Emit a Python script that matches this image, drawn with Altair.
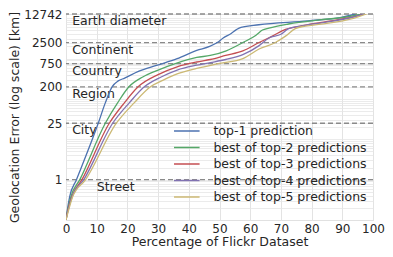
import altair as alt
import pandas as pd

series = ["top-1 prediction", "best of top-2 predictions", "best of top-3 predictions",
          "best of top-4 predictions", "best of top-5 predictions"]
colors = ["#4c72b0", "#55a868", "#c44e52", "#8172b2", "#ccb974"]

top1_pct = [0, 0.5, 1.2, 3.4, 10.5, 12.8, 15, 17, 19.1, 23.4, 29.8, 36.2, 42.6, 46.8, 49.3, 51.2, 53.8, 55.4, 57, 62.8, 78.8, 89.7, 94.2, 100]
top1_km = [0.1, 0.19, 0.38, 1, 25, 80, 200, 280, 328, 473, 686, 995, 1600, 2000, 2500, 3240, 4200, 5150, 5970, 6900, 8650, 10570, 12742, 18000]

top2_pct = [0, 0.5, 1.6, 4.5, 12.8, 16.8, 20.5, 25, 30, 35.6, 42.6, 47, 52.2, 57.6, 61.9, 64, 66.1, 72.5, 83.2, 91.8, 96, 100]
top2_km = [0.1, 0.17, 0.38, 1, 25, 80, 200, 350, 520, 750, 1069, 1195, 1560, 2500, 3800, 5100, 5700, 7200, 9200, 10900, 12742, 16000]

top3_pct = [0, 0.5, 1.9, 5.2, 14.1, 19, 23.5, 30, 36.2, 42.6, 47, 52, 57.6, 62.9, 67.2, 71.5, 76, 83.2, 93.9, 97.2, 100]
top3_km = [0.1, 0.16, 0.38, 1, 25, 80, 200, 400, 624, 824, 950, 1200, 1560, 2500, 3600, 5300, 6300, 7900, 10900, 12742, 15000]

top4_pct = [0, 0.5, 2.0, 5.8, 15.2, 20.6, 25.5, 31, 36.2, 42.6, 47, 52, 57.6, 62.9, 66.1, 70, 72.5, 77, 83.2, 92, 97.2, 100]
top4_km = [0.1, 0.15, 0.38, 1, 25, 80, 200, 350, 520, 686, 796, 950, 1250, 2100, 3250, 4000, 5500, 6500, 7700, 10000, 12742, 15000]

top5_pct = [0, 0.5, 2.2, 6.4, 16.4, 22.2, 27.5, 32, 36.2, 42.6, 50, 57.6, 62.9, 68.2, 71.5, 74.7, 78, 83.2, 93.9, 97.8, 100]
top5_km = [0.1, 0.14, 0.38, 1, 25, 80, 200, 300, 416, 571, 760, 1000, 1730, 2500, 3600, 5550, 6400, 7170, 10100, 12742, 15000]

thresholds = [12742, 2500, 750, 200, 25, 1]
threshold_names = ["Earth diameter", "Continent", "Country", "Region", "City", "Street"]
threshold_label_pct = [2, 2, 2, 2, 2, 10]

x_ticks = [0, 10, 20, 30, 40, 50, 60, 70, 80, 90, 100]
minor_grid = [0.1, 0.2, 0.3, 0.4, 0.5, 0.6, 0.7, 0.8, 0.9,
              1, 2, 3, 4, 5, 6, 7, 8, 9,
              10, 20, 30, 40, 50, 60, 70, 80, 90,
              100, 200, 300, 400, 500, 600, 700, 800, 900,
              1000, 2000, 3000, 4000, 5000, 6000, 7000, 8000, 9000, 10000]

all_pct = [top1_pct, top2_pct, top3_pct, top4_pct, top5_pct]
all_km = [top1_km, top2_km, top3_km, top4_km, top5_km]
rows = []
for name, xs, ys in zip(series, all_pct, all_km):
    for xv, yv in zip(xs, ys):
        rows.append({"series": name, "pct": xv, "km": yv})
df = pd.DataFrame(rows)

thr_df = pd.DataFrame({"km": thresholds, "name": threshold_names, "pct": threshold_label_pct})

y_values = sorted(set(minor_grid + thresholds))
label_set = ",".join(str(v) for v in thresholds)

TXT = "#262626"
xscale = alt.Scale(domain=[0, 100], nice=False)
yscale = alt.Scale(type="log", domain=[0.1, 12742], nice=False)

xaxis = alt.Axis(values=x_ticks, title="Percentage of Flickr Dataset", grid=True,
                 gridColor="#e3e3e3", gridWidth=1, domain=False, ticks=False, tickSize=0,
                 labelPadding=12, labelBaseline="alphabetic", labelFontSize=12,
                 labelColor=TXT, labelFlush=False,
                 titleFontSize=12.5, titleFontWeight="normal", titleColor=TXT,
                 titleBaseline="alphabetic", titleY=25.5)
yaxis = alt.Axis(values=y_values,
                 labelExpr=f"indexof([{label_set}], datum.value) >= 0 ? format(datum.value, 'd') : ''",
                 title="Geolocation Error (log scale) [km]", grid=True, gridColor="#e6e6e6",
                 gridWidth=0.8, domain=False, ticks=False, tickSize=0, labelPadding=4,
                 labelFontSize=12, labelColor=TXT, labelOverlap=False, labelFlush=False,
                 titleFontSize=12.5, titleFontWeight="normal", titleColor=TXT, titlePadding=2)

x_enc = alt.X("pct:Q", scale=xscale, axis=xaxis)
y_enc = alt.Y("km:Q", scale=yscale, axis=yaxis)

rules = alt.Chart(thr_df).mark_rule(color="#8a8a8a", strokeDash=[5, 3], strokeWidth=1.3).encode(
    y=y_enc
)
labels = alt.Chart(thr_df).mark_text(align="left", baseline="alphabetic", dy=11,
                                     fontSize=12.5, color=TXT).encode(
    x=x_enc, y=y_enc, text="name:N"
)
lines = alt.Chart(df).mark_line(clip=True, strokeWidth=1.3, interpolate="monotone").encode(
    x=x_enc,
    y=y_enc,
    color=alt.Color("series:N", sort=series,
                    scale=alt.Scale(domain=series, range=colors),
                    legend=alt.Legend(title=None, orient="none", legendX=108, legendY=108,
                                      symbolType="M-1.55,0H1.55", symbolSize=272,
                                      symbolStrokeWidth=1.5, symbolOffset=3.8,
                                      labelOffset=17.6, labelFontSize=12.5, labelColor=TXT,
                                      rowPadding=0.5, padding=0, labelLimit=300))
)

chart = alt.layer(rules, labels, lines).properties(
    width=307, height=206,
    autosize=alt.AutoSizeParams(type="none"),
    padding={"left": 58, "top": 6, "right": 12, "bottom": 29},
    background="white",
).configure(font="DejaVu Sans").configure_view(stroke="#cccccc", strokeWidth=1)

chart.save("out.html", embed_options={"renderer": "svg", "actions": False})
